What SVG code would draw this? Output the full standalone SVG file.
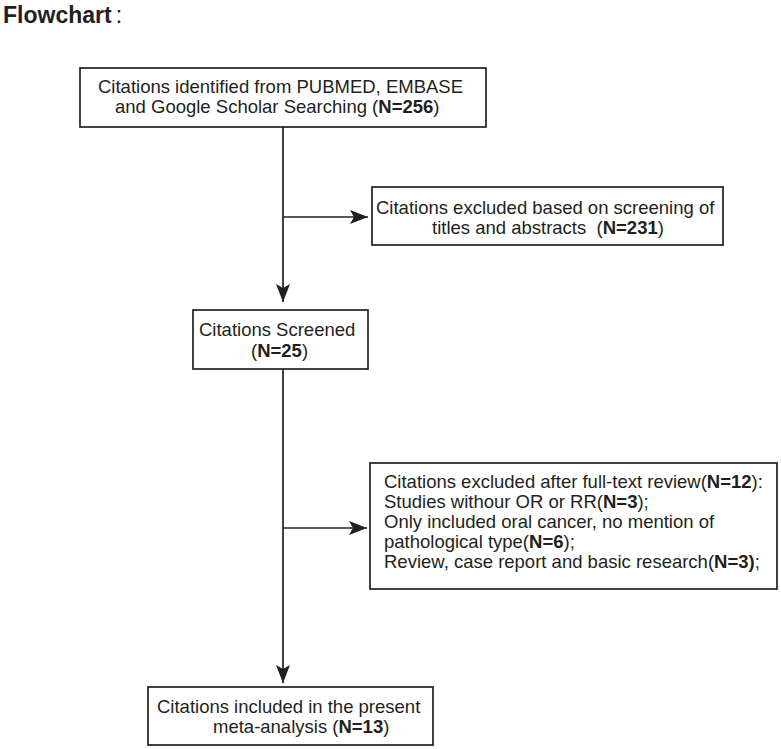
<svg xmlns="http://www.w3.org/2000/svg" width="781" height="749" viewBox="0 0 781 749">
<defs>
<style>
.box{fill:#fff;stroke:#231f20;stroke-width:1.7}
.t{font-family:"Liberation Sans",Arial,sans-serif;font-size:18.5px;fill:#231f20}
.b{font-weight:bold}
.c{fill:none;stroke:#231f20;stroke-width:1.7}
.title{font-family:"Liberation Sans",Arial,sans-serif;font-size:23px;font-weight:bold;fill:#231f20}
</style>
<marker id="ah" markerUnits="userSpaceOnUse" markerWidth="20" markerHeight="16" viewBox="-18 -8 20 16" refX="0" refY="0" orient="auto">
<path d="M0,0 L-18,-7 L-14,0 L-18,7 Z" fill="#231f20"/>
</marker>
</defs>
<rect width="781" height="749" fill="#fff"/>
<text class="title" x="3" y="23">Flowchart<tspan dx="4" font-weight="normal">:</tspan></text>
<g id="connectors">
<path class="c" d="M283,127 V302" marker-end="url(#ah)"/>
<path class="c" d="M283,217 H368" marker-end="url(#ah)"/>
<path class="c" d="M283,369 V683" marker-end="url(#ah)"/>
<path class="c" d="M283,528 H367" marker-end="url(#ah)"/>
</g>
<g id="n1">
<rect class="box" x="80" y="68" width="406" height="59"/>
<text class="t" x="98" y="93">Citations identified from PUBMED, EMBASE</text>
<text class="t" x="115" y="113">and Google Scholar Searching (<tspan class="b">N=256</tspan>)</text>
</g>
<g id="n2">
<rect class="box" x="372" y="187" width="351" height="58"/>
<text class="t" x="376" y="214">Citations excluded based on screening of</text>
<text class="t" x="432" y="234" xml:space="preserve">titles and abstracts  (<tspan class="b">N=231</tspan>)</text>
</g>
<g id="n3">
<rect class="box" x="193" y="310" width="175" height="59"/>
<text class="t" x="199" y="336">Citations Screened</text>
<text class="t" x="251" y="357">(<tspan class="b">N=25</tspan>)</text>
</g>
<g id="n4">
<rect class="box" x="370" y="463" width="407" height="126"/>
<text class="t" x="384" y="488">Citations excluded after full-text review(<tspan class="b">N=12</tspan>):</text>
<text class="t" x="384" y="508">Studies withour OR or RR(<tspan class="b">N=3</tspan>);</text>
<text class="t" x="384" y="528">Only included oral cancer, no mention of</text>
<text class="t" x="384" y="548">pathological type(<tspan class="b">N=6</tspan>);</text>
<text class="t" x="384" y="568">Review, case report and basic research(<tspan class="b">N=3)</tspan>;</text>
</g>
<g id="n5">
<rect class="box" x="148" y="687" width="285" height="58"/>
<text class="t" x="157" y="713">Citations included in the present</text>
<text class="t" x="213" y="733">meta-analysis (<tspan class="b">N=13</tspan>)</text>
</g>
</svg>
